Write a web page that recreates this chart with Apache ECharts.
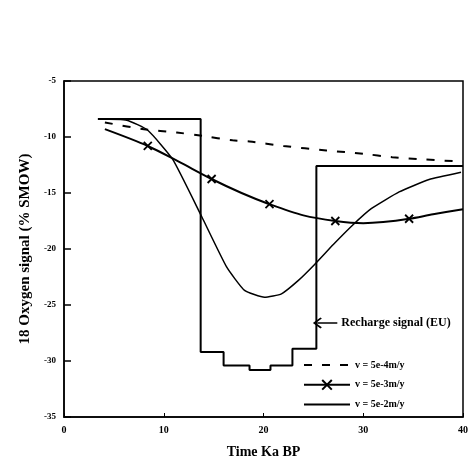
<!DOCTYPE html>
<html>
<head>
<meta charset="utf-8">
<script src="https://cdn.jsdelivr.net/npm/echarts@6/dist/echarts.min.js"></script>
<style>
  html, body { margin: 0; padding: 0; background: #fff; }
  #chart { width: 471px; height: 464px; }
</style>
</head>
<body>
<div id="chart"></div>
<script>
// recharge signal (step), EU
const recharge = [
  [3.4, -8.4], [13.7, -8.4], [13.7, -29.2], [16, -29.2], [16, -30.4],
  [18.6, -30.4], [18.6, -30.8], [20.7, -30.8], [20.7, -30.4], [22.9, -30.4],
  [22.9, -28.9], [25.3, -28.9], [25.3, -12.6], [40, -12.6]
]
// v = 5e-4 m/y
const v4 = [
  [4.1, -8.7], [8, -9.3], [11.3, -9.6], [13.9, -9.9], [16.9, -10.3],
  [18.6, -10.4], [22, -10.8], [26.3, -11.2], [30, -11.5], [32.9, -11.8],
  [36, -12.0], [40, -12.2]
]
// v = 5e-3 m/y
const v3 = [
  [4.1, -9.3], [8.4, -10.8], [11.5, -12.2], [14.8, -13.75], [17.8, -15.0],
  [20.6, -16.0], [24, -17.0], [27.2, -17.5], [30, -17.7], [32, -17.6],
  [34.6, -17.3], [37, -16.9], [40, -16.45]
]
const v3Marks = [8.4, 14.8, 20.6, 27.2, 34.6]
// v = 5e-2 m/y
const v2 = [
  [3.4, -8.4], [6.3, -8.5], [8.4, -9.4], [10.9, -12.0], [13.8, -17.1],
  [16.3, -21.6], [18.1, -23.7], [20.1, -24.3], [21.8, -24.0], [23.5, -22.8],
  [25.1, -21.4], [27, -19.6], [28.9, -17.9], [30.8, -16.4], [33.6, -14.9],
  [36.6, -13.8], [39.8, -13.15]
]
const names = ['v = 5e-4m/y', 'v = 5e-3m/y', 'v = 5e-2m/y']

const serif = 'Liberation Serif'
const xMark = 'path://M0,0L10,10M10,0L0,10'
const hidden = { color: 'rgba(0,0,0,0)', borderWidth: 0 }

const chart = echarts.init(document.getElementById('chart'))
chart.setOption({
  animation: false,
  color: ['#000'],
  grid: {
    left: 64, right: 6, top: 81, bottom: 47,
    show: true, borderColor: '#000', borderWidth: 1.5
  },
  legend: {
    data: names,
    orient: 'vertical',
    left: 298,
    top: 355,
    itemWidth: 46,
    itemHeight: 12,
    itemGap: 9,
    textStyle: { fontFamily: serif, fontWeight: 'bold', fontSize: 10, color: '#000' }
  },
  xAxis: {
    type: 'value',
    min: 0, max: 40, interval: 10,
    name: 'Time Ka BP',
    nameLocation: 'middle',
    nameGap: 28,
    nameTextStyle: { fontFamily: serif, fontWeight: 'bold', fontSize: 14, color: '#000' },
    axisLine: { lineStyle: { color: '#000', width: 1.5 } },
    axisTick: { inside: true, length: 4, lineStyle: { color: '#000' } },
    axisLabel: { fontFamily: serif, fontWeight: 'bold', fontSize: 10, color: '#000', margin: 8 },
    splitLine: { show: false }
  },
  yAxis: {
    type: 'value',
    min: -35, max: -5, interval: 5,
    name: '18 Oxygen signal (% SMOW)',
    nameLocation: 'middle',
    nameGap: 30,
    nameTextStyle: { fontFamily: serif, fontWeight: 'bold', fontSize: 15, color: '#000' },
    axisLine: { lineStyle: { color: '#000', width: 1.5 } },
    axisTick: { inside: true, length: 7, lineStyle: { color: '#000', width: 1.5 } },
    axisLabel: { fontFamily: serif, fontWeight: 'bold', fontSize: 9, color: '#000', margin: 8 },
    splitLine: { show: false }
  },
  series: [
    {
      name: 'Recharge signal (EU)',
      type: 'line',
      data: recharge,
      symbol: 'none',
      lineStyle: { color: '#000', width: 2 },
      markLine: {
        silent: true,
        symbol: ['none', 'path://M5,0L10,8L9,9.5L5,3L1,9.5L0,8Z'],
        symbolSize: [11, 9],
        lineStyle: { color: '#000', width: 1.5, type: 'solid' },
        label: {
          show: true, position: 'start', distance: 4,
          formatter: 'Recharge signal (EU)',
          fontFamily: serif, fontWeight: 'bold', fontSize: 12, color: '#000'
        },
        data: [[{ coord: [27.4, -26.6] }, { coord: [25.4, -26.6] }]]
      }
    },
    {
      name: names[0],
      type: 'line',
      data: v4,
      smooth: 0.3,
      symbol: 'none',
      itemStyle: hidden,
      lineStyle: { color: '#000', width: 2, type: [8, 10] }
    },
    {
      name: names[1],
      type: 'line',
      data: v3.map(p => v3Marks.includes(p[0]) ? p : { value: p, symbol: 'none' }),
      smooth: 0.3,
      symbol: xMark,
      symbolSize: 8,
      showAllSymbol: true,
      itemStyle: { color: '#000', borderColor: '#000', borderWidth: 1.8 },
      lineStyle: { color: '#000', width: 2 }
    },
    {
      name: names[2],
      type: 'line',
      data: v2,
      smooth: 0.15,
      symbol: 'none',
      itemStyle: hidden,
      lineStyle: { color: '#000', width: 1.5 }
    }
  ]
})
</script>
</body>
</html>
